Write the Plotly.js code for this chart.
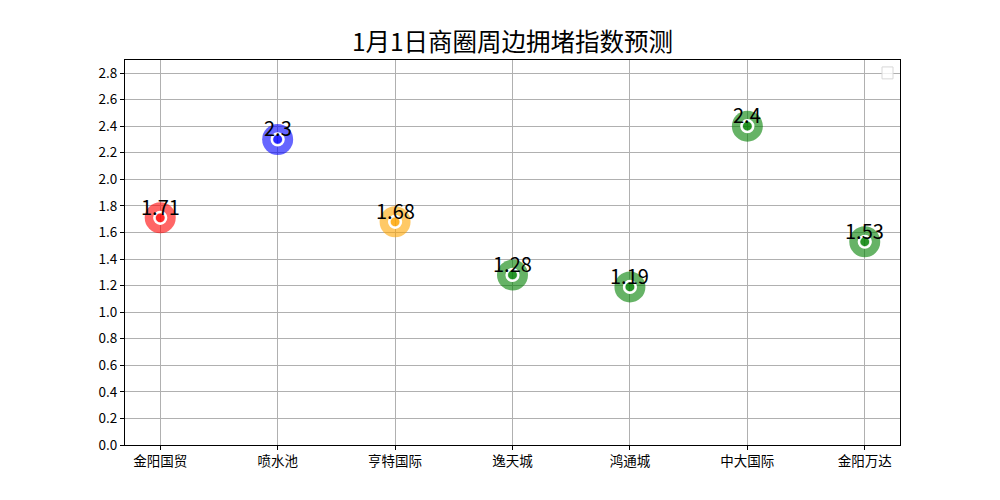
<!DOCTYPE html>
<html><head><meta charset="utf-8">
<script src="https://cdn.plot.ly/plotly-3.0.1.min.js"></script>
<style>body{margin:0;background:#fff}#c{width:1000px;height:500px}</style>
</head><body><div id="c"></div>
<script>
const categories = ['金阳国贸','喷水池','亨特国际','逸天城','鸿通城','中大国际','金阳万达'];
const values = [1.71, 2.3, 1.68, 1.28, 1.19, 2.4, 1.53];
const colors = ['red','blue','orange','green','green','green','green'];
const labels = ['1.71','2.3','1.68','1.28','1.19','2.4','1.53'];
const yTicks = [0,0.2,0.4,0.6,0.8,1.0,1.2,1.4,1.6,1.8,2.0,2.2,2.4,2.6,2.8];

const F = '"Noto Sans CJK SC", "SimHei", sans-serif';
const xs = categories.map((c,i)=>i);
const traces = [
  {x: xs, y: values, mode:'markers', type:'scatter', showlegend:false, hoverinfo:'skip',
   marker:{size:31, color:colors, opacity:0.6, line:{width:0}}},
  {x: xs, y: values, mode:'markers', type:'scatter', showlegend:false, hoverinfo:'skip',
   marker:{size:11, color:colors, opacity:0.6, line:{width:2.2, color:'white'}}},
  {x: xs, y: values, mode:'markers', type:'scatter', showlegend:false, hoverinfo:'skip',
   marker:{size:12, color:'rgba(0,0,0,0)', line:{width:2.2, color:'white'}}}
];
const annotations = xs.map((x,i)=>({x:x, y:values[i], text:labels[i], showarrow:false,
  xanchor:'center', yanchor:'bottom', yshift:-5, font:{family:F, size:20, color:'black'}}));
const layout = {
  width:1000, height:500,
  margin:{l:125, r:100, t:60, b:55},
  paper_bgcolor:'white', plot_bgcolor:'white',
  title:{text:'1月1日商圈周边拥堵指数预测', font:{family:F, size:24.5, color:'black'}, xref:'paper', x:0.5, xanchor:'center', y:0.915, yanchor:'middle'},
  xaxis:{range:[-0.3,6.3], tickvals:xs, ticktext:categories, showgrid:true, gridcolor:'#b0b0b0', gridwidth:1,
    showline:true, linecolor:'black', linewidth:1, mirror:true, ticks:'outside', ticklen:4, tickcolor:'black',
    tickfont:{family:F, size:13.5, color:'black'}, zeroline:false},
  yaxis:{range:[0,2.898], tickvals:yTicks, tickformat:'.1f', showgrid:true, gridcolor:'#b0b0b0', gridwidth:1,
    showline:true, linecolor:'black', linewidth:1, mirror:true, ticks:'outside', ticklen:4, tickcolor:'black',
    tickfont:{family:F, size:13.5, color:'black'}, zeroline:false},
  annotations: annotations,
  shapes:[{type:'rect', xref:'paper', yref:'paper', x0:0.9768, x1:0.991, y0:0.951, y1:0.982,
    line:{color:'#d8d8d8', width:1}, fillcolor:'rgba(255,255,255,0.8)'}]
};
Plotly.newPlot('c', traces, layout, {staticPlot:true});
</script></body></html>
